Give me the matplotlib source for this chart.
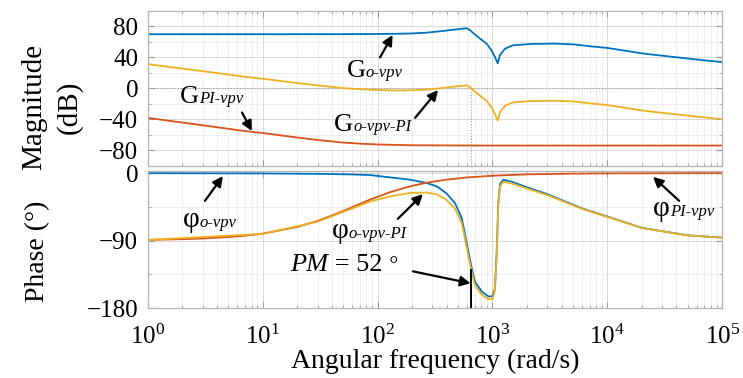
import matplotlib
matplotlib.use("Agg")
import matplotlib.pyplot as plt
from matplotlib.offsetbox import TextArea, HPacker, AnnotationBbox
from matplotlib.ticker import LogLocator, MultipleLocator, NullFormatter

plt.rcParams["font.family"] = ["Liberation Serif", "DejaVu Serif"]
plt.rcParams["mathtext.fontset"] = "custom"
plt.rcParams["mathtext.rm"] = "Liberation Serif"
plt.rcParams["mathtext.it"] = "Liberation Serif:italic"

BLUE, ORANGE, YELLOW = "#0072BD", "#D95319", "#EDB120"

# --- magnitude (dB) ---
w_mag_o = [1, 10, 50, 100, 150, 200, 267, 350, 460, 540, 597, 640, 682, 780, 891,
           980, 1050, 1110, 1160, 1290, 1510, 2130, 3400, 5000, 7560, 1e4, 2.06e4,
           5.6e4, 1e5]
mag_o = [70, 70, 70.1, 70.3, 70.6, 71, 72, 73.8, 75.8, 77, 77.8, 75, 71.4, 64.2, 57.8,
         49.3, 40.7, 32.3, 42.9, 51.5, 55.7, 57.4, 57.9, 57, 54, 52.3, 45,
         37.8, 34]

w_mag_pi = [1, 2, 3, 5, 7, 10, 20, 30, 50, 70, 100, 200, 500, 1e3, 1e4, 1e5]
mag_pi = [-38, -44, -47.5, -52, -55, -57.5, -63.3, -66.5, -69.8, -71.2, -72.3,
          -73.3, -73.6, -73.7, -73.7, -73.7]

w_mag_ol = [1, 2, 3, 5, 7, 10, 20, 30, 50, 70, 100, 150, 200, 267, 350, 460, 540,
            597, 640, 682, 780, 891, 980, 1050, 1110, 1160, 1290, 1510, 2130, 3400,
            5000, 7560, 1e4, 2.06e4, 5.6e4, 1e5]
mag_ol = [31.4, 25.6, 22.3, 18, 15.1, 12.5, 7, 4, 0.4, -0.9, -2, -2.7, -2.3, -1.5,
          0.2, 2.2, 3.4, 4, 1.3, -2.3, -9.5, -15.9, -24.4, -33, -41.4, -30.8, -22.2,
          -18, -16.3, -15.8, -16.7, -19.7, -21.4, -28.7, -35.9, -39.7]

# --- phase (deg) ---
w_ph = [1, 10, 30, 60, 86, 128, 192, 268, 327, 398, 472, 540, 577, 617, 660, 705,
        807, 922, 1000, 1050, 1089, 1125, 1165, 1245, 1473, 2000, 3000, 4000, 6000,
        1e4, 2e4, 5e4, 1e5]
ph_o = [-0.1, -0.4, -1, -1.8, -2.6, -5.7, -8.8, -13.2, -17.6, -27, -40, -60, -82,
        -105, -127, -145, -158, -164.5, -164.5, -154, -105, -39, -14.5, -8.8, -11.5,
        -19, -28, -36, -47, -58, -73, -83, -86]
ph_ol = [-89.1, -81.1, -64.8, -47.3, -37.9, -31.2, -26.4, -26, -28.2, -35.7, -47.4,
         -66.4, -88, -110.6, -132.3, -149.9, -162.3, -168.3, -168, -157.3, -108.2,
         -42.1, -17.5, -11.6, -13.9, -20.7, -29.2, -36.9, -47.6, -58.4, -73.2, -83.1,
         -86]

w_ph_pi = [1, 2, 3, 5, 7, 10, 20, 30, 45, 60, 86, 128, 192, 268, 400, 600, 1000,
           2000, 5000, 1e4, 1e5]
ph_pi = [-89, -88.1, -87.2, -85.3, -83.5, -80.7, -71.8, -63.8, -53.6, -45.5, -35.3,
         -25.5, -17.6, -12.8, -8.7, -5.8, -3.5, -1.7, -0.7, -0.35, 0]

w_cross = 645     # gain crossover (rad/s)
ph_cross = -128   # phase at crossover -> PM = 52 deg

fig = plt.figure(figsize=(7.43, 3.78), dpi=100)
ax1 = fig.add_axes([0.199, 0.561, 0.773, 0.410])
ax2 = fig.add_axes([0.199, 0.185, 0.773, 0.363])

for ax in (ax1, ax2):
    ax.set_xscale("log")
    ax.set_xlim(1, 1e5)
    ax.xaxis.set_major_locator(LogLocator(base=10, numticks=10))
    ax.xaxis.set_minor_locator(LogLocator(base=10, subs=range(2, 10), numticks=10))
    ax.xaxis.set_minor_formatter(NullFormatter())
    ax.grid(True, which="major", color="#d9d9d9", lw=0.7)
    ax.grid(True, which="minor", color="#ededed", lw=0.6)
    ax.set_axisbelow(True)
    for s in ax.spines.values():
        s.set_color("#b4b4b4")
        s.set_linewidth(0.9)
    ax.tick_params(which="both", direction="in", top=True, right=True,
                   color="#999999", labelsize=18, pad=7)
    ax.tick_params(which="major", length=4)
    ax.tick_params(which="minor", length=2)

# magnitude
ax1.plot(w_mag_o, mag_o, color=BLUE, lw=1.3)
ax1.plot(w_mag_pi, mag_pi, color=ORANGE, lw=1.3)
ax1.plot(w_mag_ol, mag_ol, color=YELLOW, lw=1.3)
ax1.axhline(0, color="#9a9a9a", ls=":", lw=0.8, zorder=1)
ax1.vlines(w_cross, -100, 0, color="#9a9a9a", ls=":", lw=0.8, zorder=1)
ax1.set_ylim(-100, 100)
ax1.set_yticks([80, 40, 0, -40, -80])
ax1.yaxis.set_minor_locator(MultipleLocator(20))
ax1.tick_params(axis="x", labelbottom=False)
ax1.set_ylabel("Magnitude\n(dB)", fontsize=21, linespacing=1.45)
ax1.yaxis.set_label_coords(-0.113, 0.38)

# phase
ax2.plot(w_ph, ph_o, color=BLUE, lw=1.3)
ax2.plot(w_ph_pi, ph_pi, color=ORANGE, lw=1.3)
ax2.plot(w_ph, ph_ol, color=YELLOW, lw=1.3)
ax2.vlines(w_cross, -180, ph_cross, color="k", lw=1.4, zorder=4)
ax2.set_ylim(-180, 3)
ax2.set_yticks([0, -90, -180])
ax2.yaxis.set_minor_locator(MultipleLocator(45))
ax2.tick_params(axis="x", pad=12)
ax2.set_ylabel("Phase (°)", fontsize=20)
ax2.yaxis.set_label_coords(-0.17, 0.41)
ax2.set_xlabel("Angular frequency (rad/s)", fontsize=20, labelpad=0)


def tag(ax, xy, main, sub, main_size=19, sub_size=12):
    kids = [TextArea(main, textprops=dict(fontsize=main_size)),
            TextArea(sub, textprops=dict(fontsize=sub_size, style="italic"))]
    box = HPacker(children=kids, align="baseline", pad=0, sep=0)
    ax.add_artist(AnnotationBbox(box, xy, xycoords="data", box_alignment=(0, 0.5),
                                 frameon=False, pad=0, annotation_clip=False))


def arrow(ax, tail, head):
    ax.annotate("", xy=head, xytext=tail,
                arrowprops=dict(arrowstyle="-|>", color="k", lw=1.6,
                                mutation_scale=15, shrinkA=0, shrinkB=0))


tag(ax1, (54, 23), "G", "o-vpv")
arrow(ax1, (105, 40), (135, 69))
tag(ax1, (42, -47), "G", "o-vpv-PI")
arrow(ax1, (212, -38), (336, -2))
tag(ax1, (1.9, -11), "G", "PI-vpv")
arrow(ax1, (6.6, -31), (8.05, -55))

tag(ax2, (2.0, -63), "φ", "o-vpv", main_size=21)
arrow(ax2, (3.14, -37), (4.5, -4))
tag(ax2, (40, -77), "φ", "o-vpv-PI", main_size=21)
arrow(ax2, (150, -61), (248, -28))
tag(ax2, (25000, -48), "φ", "PI-vpv", main_size=21)
arrow(ax2, (42200, -37), (25000, -5))

pm = HPacker(children=[TextArea("PM", textprops=dict(fontsize=19, style="italic")),
                       TextArea(" = 52", textprops=dict(fontsize=19)),
                       TextArea(" °", textprops=dict(fontsize=16, style="italic"))],
             align="baseline", pad=0, sep=0)
ax2.add_artist(AnnotationBbox(pm, (17.3, -123), xycoords="data",
                              box_alignment=(0, 0.5), frameon=False, pad=0))
arrow(ax2, (203, -131), (w_cross, -147))

fig.savefig("out.png", dpi=100)
